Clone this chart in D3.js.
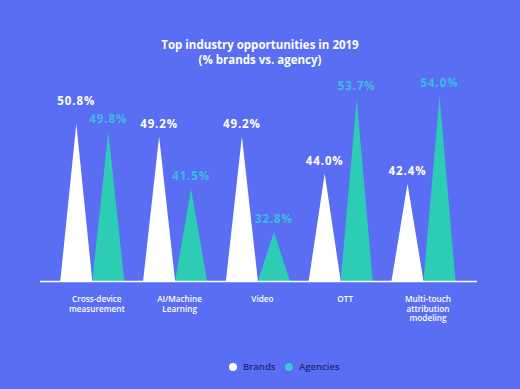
<!DOCTYPE html>
<html><head><meta charset="utf-8">
<script src="https://cdn.jsdelivr.net/npm/d3@7"></script>
<style>
html,body{margin:0;padding:0;background:#596ef2;}
svg{display:block;}
</style></head>
<body>
<svg id="c" width="520" height="389"></svg>
<script>
const categories = [["Cross-device","measurement"],["AI/Machine","Learning"],["Video"],["OTT"],["Multi-touch","attribution","modeling"]];
const brands = [50.8, 49.2, 49.2, 44.0, 42.4];
const agencies = [49.8, 41.5, 32.8, 53.7, 54.0];
const seriesNames = ["Brands","Agencies"];
const titleLines = ["Top industry opportunities in 2019","(% brands vs. agency)"];

const W=520,H=389;
const bg="#596ef2", white="#ffffff", teal="#2ccdb4", tealText="#3bbbe0", navy="#1f2a7a";
const svg=d3.select("#c");
svg.append("rect").attr("width",W).attr("height",H).attr("fill",bg);

const x=d3.scaleBand().domain(d3.range(categories.length)).range([50.9,464.9]);
const y=d3.scalePow().exponent(2.66).domain([0,54]).range([281,96]);
const off=16, half=16;
const font="'Open Sans', Lato, sans-serif";

// title
svg.append("g").selectAll("text").data(titleLines).join("text")
  .attr("x",260).attr("y",(d,i)=>49+i*15).attr("text-anchor","middle")
  .attr("fill","#fff").attr("font-family",font).attr("font-weight",700).attr("font-size",11.5)
  .text(d=>d);

function tri(cx,v){
  const b=y.range()[0];
  return `M${cx-half},${b}L${cx},${y(v)}L${cx+half},${b}Z`;
}
const g=svg.append("g");
categories.forEach((c,i)=>{
  const cx=x(i)+x.bandwidth()/2;
  g.append("path").attr("d",tri(cx-off,brands[i])).attr("fill",white);
  g.append("path").attr("d",tri(cx+off,agencies[i])).attr("fill",teal);
  let yb=y(brands[i])-9, ya=y(agencies[i])-9;
  const minSep=18;
  if(Math.abs(yb-ya)<minSep){ if(yb<=ya) yb=ya-minSep; else ya=yb-minSep; }
  g.append("text").attr("x",cx-off).attr("y",yb).attr("text-anchor","middle")
    .attr("fill","#fff").attr("font-family",font).attr("font-weight",700).attr("font-size",11.5)
    .attr("letter-spacing",0.9).text(brands[i].toFixed(1)+"%");
  g.append("text").attr("x",cx+off).attr("y",ya).attr("text-anchor","middle")
    .attr("fill",tealText).attr("font-family",font).attr("font-weight",700).attr("font-size",11.5)
    .attr("letter-spacing",0.9).text(agencies[i].toFixed(1)+"%");
  const t=g.append("text").attr("text-anchor","middle").attr("fill","#fff")
    .attr("font-family",font).attr("font-weight",600).attr("font-size",8.2);
  c.forEach((line,j)=>t.append("tspan").attr("x",cx+4.5).attr("y",302+j*9.5).text(line));
});
// baseline
svg.append("line").attr("x1",40).attr("x2",477).attr("y1",281.5).attr("y2",281.5)
  .attr("stroke","#fff").attr("stroke-width",1.5);

// legend
const lg=svg.append("g");
const lx=[233,289];
seriesNames.forEach((s,i)=>{
  lg.append("circle").attr("cx",lx[i]).attr("cy",367).attr("r",4).attr("fill",i? "#35c9d0":"#fff");
  lg.append("text").attr("x",lx[i]+10).attr("y",370).attr("fill",navy).attr("font-family",font)
    .attr("font-weight",600).attr("font-size",9.5).text(s);
});
</script>
</body></html>
